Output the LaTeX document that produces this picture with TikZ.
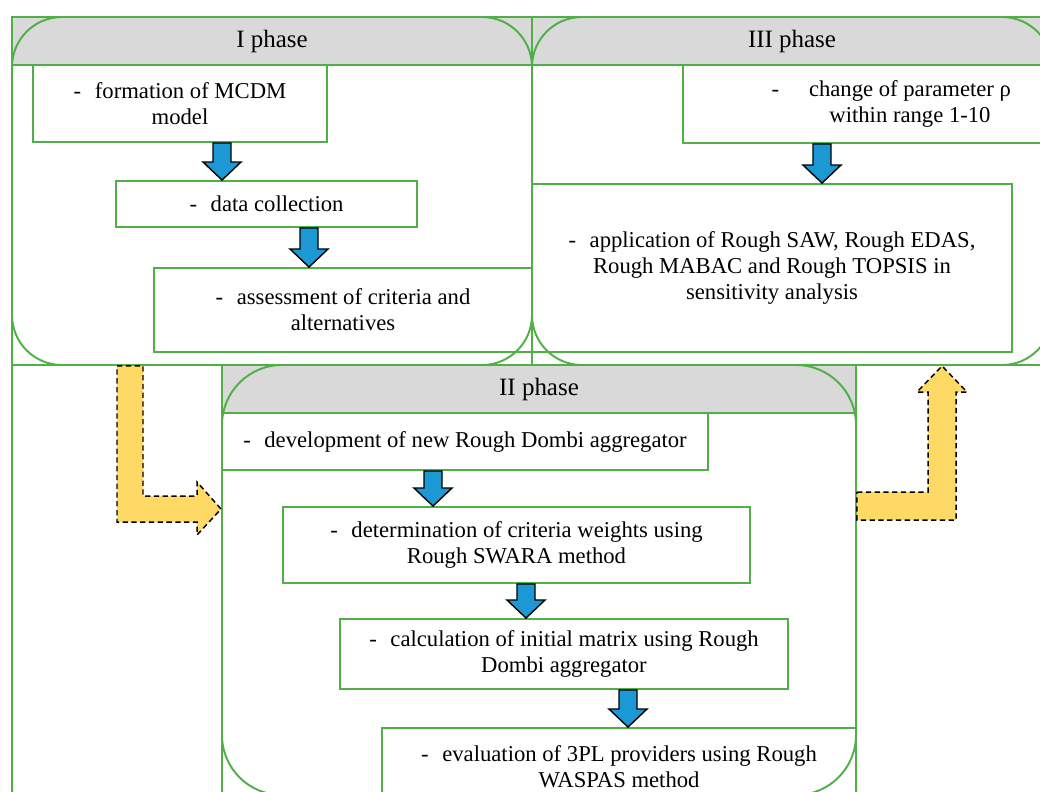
\documentclass[tikz,border=0pt]{standalone}
\usepackage{fontspec}
\setmainfont{Liberation Serif}
\newfontfamily\timesfont{Liberation Serif}
\usetikzlibrary{fit,calc}
\definecolor{frame}{RGB}{80,176,70}
\definecolor{headgray}{RGB}{217,217,217}
\definecolor{arrblue}{RGB}{28,152,212}
\definecolor{arryel}{RGB}{255,217,102}
\newcommand{\dsh}{-\hspace{0.6em}}

\begin{document}
\begin{tikzpicture}[x=0.02cm,y=-0.02cm,
  box/.style={draw=frame,line width=1.1pt,inner sep=0pt},
  boxtext/.style={align=center,inner sep=0pt,font=\timesfont\fontsize{12.9}{14.8}\selectfont},
  phase/.style={draw=frame,line width=1.1pt,inner sep=0pt,rounded corners=1cm},
  head/.style={font=\timesfont\fontsize{14.2}{17}\selectfont},
  bluearr/.style={fill=arrblue,draw=black,line width=0.8pt,line join=miter},
  yelarr/.style={fill=arryel,draw=black,line width=0.85pt,dash pattern=on 3pt off 2pt}]
\useasboundingbox (0,0) rectangle (1040,791);
\clip (0,0) rectangle (1040,791);
% header bands and frame lines
\fill[headgray] (12,17) rectangle (1060,65) (222,365) rectangle (856,413);
\draw[frame,line width=0.6pt] (12,17) rectangle (1060,820) (532,17) -- (532,365) (12,365) -- (1060,365) (222,365) rectangle (856,820);
\draw[frame,line width=1.1pt] (12,65) -- (1060,65) (222,413) -- (856,413);
% I phase
\node[box,fit={(33,65)(327,142)},label={[boxtext]center:\dsh formation of MCDM\\model}] (form) {};
\node[box,fit={(116,181)(417,227)},label={[boxtext]center:\dsh data collection}] (data) {};
\node[box,fit={(154,268)(532,352)},label={[boxtext]center:\dsh assessment of criteria and\\alternatives}] (assess) {};
% III phase
\node[box,fit={(683,65)(1137,143)},label={[boxtext]center:\makebox[0pt][r]{-\hspace{17pt}}change of parameter ρ\\within range 1-10}] (change) {};
\node[box,fit={(532,184)(1012,352)},label={[boxtext]center:\dsh application of Rough SAW, Rough EDAS,\\Rough MABAC and Rough TOPSIS in\\sensitivity analysis}] (appl) {};
% II phase
\node[box,fit={(222,413)(708,470)},label={[boxtext]center:\dsh development of new Rough Dombi aggregator}] (dev) {};
\node[box,fit={(283,507)(750,583)},label={[boxtext]center:\dsh determination of criteria weights using\\Rough SWARA method}] (det) {};
\node[box,fit={(340,619)(788,689)},label={[boxtext]center:\dsh calculation of initial matrix using Rough\\Dombi aggregator}] (calc) {};
\node[box,fit={(382,728)(856,806)},label={[boxtext]center:\dsh evaluation of 3PL providers using Rough\\WASPAS method}] (eval) {};
% rounded phase outlines
\node[phase,fit={(12,17)(532,365)}] (p1) {};
\node[phase,fit={(532,17)(1052,365)}] (p3) {};
\node[phase,rounded corners=1.2cm,fit={(222,365)(856,795)}] (p2) {};
\node[head] (h1) at (p1.north |- 0,41) {I phase};
\node[head] (h3) at (p3.north |- 0,41) {III phase};
\node[head] (h2) at (p2.north |- 0,389) {II phase};
% blue block arrows
\foreach \x/\a/\b in {222/form/data,309/data/assess,822/change/appl,433/dev/det,526/det/calc,628/calc/eval}
  \filldraw[bluearr] ($(\x,0 |- \a.south)+(-9,0)$) -- ($(\x,0 |- \b.north)+(-9,-18)$) -- ++(-10,0) -- (\x,0 |- \b.north) -- ++(19,-18) -- ++(-10,0) -- ($(\x,0 |- \a.south)+(9,0)$) -- cycle;
% yellow phase arrows
\filldraw[yelarr] (117,0 |- p1.south) -- (143,0 |- p1.south) -- (143,496) -- (197,496) -- (197,482) -- (p2.west |- 0,509) -- (197,535) -- (197,522) -- (117,522) -- cycle;
\filldraw[yelarr] (p2.east |- 0,492) -- (928,492) -- (928,392) -- (917,392) -- (942,0 |- p3.south) -- (967,392) -- (956,392) -- (956,520) -- (p2.east |- 0,520) -- cycle;
\end{tikzpicture}
\end{document}
